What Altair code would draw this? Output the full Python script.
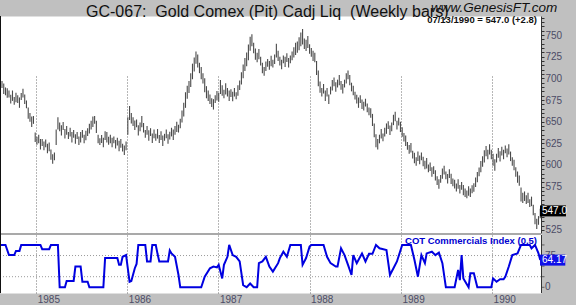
import altair as alt
import pandas as pd

# ---------------- data ----------------
N_WEEKS = 310
last_date = "1990-07-13"

price_mid = [
    690, 693, 688, 685, 683, 682, 676, 680, 674, 678,
    676, 672, 679, 683, 676, 670, 660, 655, 650, 652,
    632, 628, 630, 624, 626, 622, 625, 619, 621, 612,
    607, 610, 632, 648, 644, 640, 645, 636, 640, 634,
    638, 632, 636, 630, 634, 628, 632, 636, 630, 634,
    638, 642, 646, 650, 652, 644, 630, 627, 630, 626,
    634, 632, 628, 630, 626, 629, 624, 627, 622, 625,
    620, 617, 622, 645, 660, 654, 650, 646, 648, 640,
    644, 650, 643, 636, 640, 634, 638, 631, 636, 632,
    636, 630, 634, 628, 632, 636, 630, 634, 638, 635,
    640, 644, 642, 648, 656, 664, 675, 684, 690, 698,
    708, 716, 724, 720, 712, 706, 700, 692, 684, 680,
    676, 672, 670, 676, 680, 678, 690, 686, 682, 688,
    684, 680, 683, 679, 684, 680, 686, 692, 700, 708,
    716, 722, 730, 740, 744, 735, 728, 724, 728, 720,
    712, 708, 714, 718, 715, 720, 717, 722, 732, 726,
    720, 716, 722, 719, 724, 718, 722, 726, 730, 734,
    736, 740, 745, 748, 740, 738, 742, 734, 730, 726,
    724, 712, 700, 690, 684, 688, 680, 684, 676, 686,
    692, 696, 690, 694, 698, 692, 688, 694, 700, 704,
    698, 690, 686, 680, 676, 672, 676, 670, 668, 672,
    666, 662, 660, 652, 640, 628, 624, 630, 636, 632,
    638, 642, 646, 640, 644, 652, 656, 646, 650, 644,
    638, 632, 628, 622, 618, 620, 612, 608, 604, 610,
    606, 610, 604, 600, 602, 596, 598, 592, 594, 588,
    582, 578, 584, 590, 594, 588, 584, 590, 584, 580,
    578, 574, 578, 572, 576, 571, 568, 566, 570, 568,
    572, 574, 580, 586, 592, 598, 604, 610, 616, 612,
    618, 612, 606, 600, 608, 614, 610, 616, 612, 618,
    614, 618, 610, 604, 600, 592, 586, 582, 566, 562,
    564, 560, 562, 556, 558, 548, 538, 532, 536, 544,
]

price_range = [
    10, 8, 12, 9, 11, 8, 10, 12, 9, 11,
    9, 12, 8, 10, 11, 9, 13, 10, 12, 9,
    11, 9, 10, 12, 8, 10, 9, 11, 10, 12,
    11, 9, 18, 14, 10, 12, 9, 11, 10, 8,
    10, 12, 9, 11, 8, 10, 12, 9, 10, 11,
    9, 11, 10, 12, 9, 14, 10, 8, 9, 11,
    10, 12, 9, 10, 11, 8, 10, 9, 12, 10,
    9, 11, 10, 20, 16, 12, 10, 11, 9, 12,
    10, 13, 11, 9, 10, 12, 9, 11, 10, 8,
    11, 9, 10, 12, 8, 10, 11, 9, 10, 12,
    10, 12, 9, 11, 14, 16, 18, 15, 14, 16,
    18, 16, 14, 15, 12, 14, 12, 16, 14, 12,
    11, 10, 12, 9, 11, 10, 16, 12, 10, 13,
    10, 12, 9, 11, 10, 8, 12, 11, 14, 16,
    15, 16, 18, 16, 14, 12, 13, 11, 12, 10,
    12, 10, 11, 9, 10, 12, 9, 11, 16, 12,
    10, 11, 9, 12, 10, 11, 9, 10, 12, 14,
    13, 15, 16, 18, 12, 13, 14, 11, 10, 12,
    11, 16, 18, 13, 10, 11, 12, 10, 11, 9,
    12, 10, 11, 9, 12, 10, 11, 9, 12, 10,
    12, 10, 11, 9, 10, 12, 9, 11, 10, 9,
    10, 9, 11, 14, 16, 15, 12, 10, 11, 9,
    10, 12, 9, 11, 10, 12, 11, 10, 9, 12,
    11, 10, 12, 9, 10, 11, 9, 12, 10, 11,
    10, 9, 11, 10, 12, 9, 10, 11, 9, 12,
    10, 11, 9, 12, 10, 9, 11, 10, 12, 9,
    10, 9, 11, 10, 9, 12, 10, 9, 11, 10,
    9, 10, 11, 12, 10, 13, 12, 14, 12, 11,
    12, 11, 14, 13, 10, 11, 12, 10, 11, 9,
    10, 12, 11, 10, 12, 11, 13, 12, 16, 12,
    11, 10, 12, 9, 11, 12, 13, 12, 10, 11,
]

# COT Commercials Index: (week number, value) turning points
cot_week = [0, 3, 5, 8, 9, 11, 12, 23, 24, 28, 29, 33, 34, 37, 38, 41, 42, 43, 46, 47,
            50, 51, 59, 60, 67, 68, 69, 70, 72, 74, 75, 77, 78, 79, 83, 84, 86, 87, 89, 90,
            91, 96, 97, 98, 100, 102, 103, 115, 117, 120, 122, 124, 125, 127, 128, 130, 131, 133, 135, 137,
            139, 141, 143, 145, 147, 148, 150, 152, 154, 156, 159, 160, 162, 164, 166, 172, 173, 175, 177, 178,
            185, 187, 189, 192, 193, 195, 197, 199, 201, 202, 204, 207, 209, 211, 213, 215, 217, 221, 223, 225,
            227, 230, 235, 237, 239, 241, 243, 244, 247, 249, 251, 253, 255, 260, 262, 263, 264, 265, 268, 269,
            271, 273, 281, 282, 284, 286, 288, 289, 291, 293, 296, 298, 303, 304, 306, 308, 309]
cot_val = [100, 100, 76, 76, 86, 86, 100, 100, 90, 90, 100, 100, 0, 0, 15, 15, 15, 49, 49, 13,
           13, 0, 0, 69, 69, 53, 53, 72, 76, 13, 15, 45, 55, 100, 100, 61, 61, 100, 100, 79,
           61, 61, 87, 80, 72, 29, 0, 0, 25, 45, 49, 47, 53, 21, 53, 72, 100, 76, 72, 61,
           5, 0, 9, 0, 0, 57, 61, 72, 49, 37, 57, 69, 84, 72, 100, 100, 53, 69, 96, 100,
           100, 72, 57, 49, 49, 92, 76, 53, 29, 76, 57, 80, 61, 79, 79, 100, 92, 88, 29, 45,
           61, 100, 100, 65, 25, 76, 57, 80, 84, 76, 82, 57, 0, 0, 41, 17, 76, 21, 0, 33,
           33, 0, 0, 21, 13, 19, 19, 25, 49, 76, 80, 100, 100, 92, 100, 80, 64.17]

year_labels = [1985, 1986, 1987, 1988, 1989, 1990]
price_ticks = list(range(525, 771, 5))
price_label_values = [525, 575, 600, 625, 650, 675, 700, 725, 750]
cot_tick_values = [0, 25, 50, 75, 100]
cot_label_values = [0, 75]
cot_grid_values = [25, 75]
last_price = 547.0
last_cot = 64.17

title_text = "GC-067:\u00a0 Gold Comex (Pit) Cadj Liq\u00a0 (Weekly bars)"
site_text = "www.GenesisFT.com"
date_text = "07/13/1990 = 547.0 (+2.8)"
cot_title = "COT Commercials Index (0.5)"

# ---------------- tables ----------------
dates = pd.date_range(end=last_date, periods=N_WEEKS, freq="W-FRI")
date_str = [d.strftime("%Y-%m-%d") for d in dates]
bars_df = pd.DataFrame({
    "date": date_str,
    "low": [m - r / 2 for m, r in zip(price_mid, price_range)],
    "high": [m + r / 2 for m, r in zip(price_mid, price_range)],
})
cot_df = pd.DataFrame({"date": [date_str[w] for w in cot_week], "cot": cot_val})

W, H = 541, 277
FONT = "Liberation Sans"
LABEL_COLOR = "#4c4c66"

x_scale = alt.Scale(type="utc", domain=[
    alt.DateTime(year=1984, month=8, date=9, utc=True),
    alt.DateTime(year=1990, month=7, date=16, utc=True)])
x_axis = alt.Axis(
    values=[alt.DateTime(year=y, month=1, date=1, utc=True) for y in year_labels],
    format="%Y", title=None, grid=True, gridDash=[1, 2], gridColor="#6e6e6e",
    gridWidth=1, domain=False, ticks=False, labelAlign="left", labelPadding=1,
    labelOffset=1, labelFont=FONT, labelFontSize=10, labelColor=LABEL_COLOR,
    labelFlush=False, labelOverlap=False, zindex=0)
x_enc = alt.X("date:T", scale=x_scale, axis=x_axis)

price_scale = alt.Scale(domain=[521.5, 772], range=[217, 0], nice=False, zero=False)
cot_scale = alt.Scale(domain=[-13.5, 123.5], range=[277, 219], nice=False, zero=False)

label_test = " || ".join(f"datum.value === {v}" for v in price_label_values)
price_axis = alt.Axis(
    orient="right", values=price_ticks, title=None, grid=False,
    labelExpr=f"({label_test}) ? datum.label : ''", format="d",
    tickSize=3, tickColor="#333333", domainColor="#333333", labelPadding=1,
    labelFont=FONT, labelFontSize=10, labelColor=LABEL_COLOR, labelOverlap=False,
    labelBaseline="middle", labelFlush=False)

one = pd.DataFrame({"a": [0]})

separator = alt.Chart(one).mark_rect(color="#a9a9a9").encode(
    x=alt.value(0), x2=alt.value(W), y=alt.value(217), y2=alt.value(219))

cot_grid = alt.Chart(pd.DataFrame({"v": cot_grid_values})).mark_rule(
    strokeDash=[1, 2], color="#9a9a9a", strokeWidth=1).encode(
    y=alt.Y("v:Q", scale=cot_scale, axis=None), x=alt.value(0), x2=alt.value(W))

bars = alt.Chart(bars_df).mark_rule(color="#4a4a4a", strokeWidth=1.1).encode(
    x=x_enc,
    y=alt.Y("low:Q", scale=price_scale, axis=price_axis),
    y2="high:Q")

cot_line = alt.Chart(cot_df).mark_line(color="#0000e0", strokeWidth=2).encode(
    x=x_enc, y=alt.Y("cot:Q", scale=cot_scale, axis=None))

left_border = alt.Chart(one).mark_rule(color="#111111", strokeWidth=1).encode(
    x=alt.value(0.5), y=alt.value(0), y2=alt.value(H))
right_border = alt.Chart(one).mark_rule(color="#333333", strokeWidth=1).encode(
    x=alt.value(W + 0.5), y=alt.value(219), y2=alt.value(H))

cot_ticks = alt.Chart(pd.DataFrame({"v": cot_tick_values})).mark_tick(
    orient="horizontal", size=3, thickness=1, color="#333333").encode(
    y=alt.Y("v:Q", scale=cot_scale, axis=None), x=alt.value(W + 2))

cot_labels = alt.Chart(pd.DataFrame({"v": cot_label_values,
                                     "lab": [str(v) for v in cot_label_values]})).mark_text(
    align="left", baseline="middle", font=FONT, fontSize=10, color=LABEL_COLOR).encode(
    y=alt.Y("v:Q", scale=cot_scale, axis=None), x=alt.value(W + 4), text="lab:N")

box_path = "M0,-0.5H2.36V0.5H0Z"
price_box = alt.Chart(pd.DataFrame({"v": [last_price]})).mark_point(
    shape=box_path, filled=True, size=484, color="#000000", opacity=1, strokeWidth=0).encode(
    x=alt.value(W - 1), y=alt.Y("v:Q", scale=price_scale, axis=None))
price_box_text = alt.Chart(pd.DataFrame({"v": [last_price], "lab": [f"{last_price:.1f}"]})).mark_text(
    align="left", baseline="middle", font=FONT, fontSize=10, color="white").encode(
    x=alt.value(W + 1), y=alt.Y("v:Q", scale=price_scale, axis=None), text="lab:N")

cot_box = alt.Chart(pd.DataFrame({"v": [last_cot]})).mark_point(
    shape="M0,-0.5H2.3V0.5H0Z", filled=True, size=484, color="#1010e8", opacity=1, strokeWidth=0).encode(
    x=alt.value(W - 1), y=alt.Y("v:Q", scale=cot_scale, axis=None))
cot_box_text = alt.Chart(pd.DataFrame({"v": [last_cot], "lab": [f"{last_cot:.2f}"]})).mark_text(
    align="left", baseline="middle", font=FONT, fontSize=10, color="white").encode(
    x=alt.value(W + 1), y=alt.Y("v:Q", scale=cot_scale, axis=None), text="lab:N")

cot_title_mark = alt.Chart(pd.DataFrame({"t": [cot_title]})).mark_text(
    align="right", baseline="alphabetic", font=FONT, fontSize=9.5, fontWeight="bold",
    color="#0000d0").encode(x=alt.value(537), y=alt.value(228), text="t:N")

title_mark = alt.Chart(pd.DataFrame({"t": [title_text]})).mark_text(
    align="left", baseline="alphabetic", font=FONT, fontSize=16, color="#111111").encode(
    x=alt.value(86), y=alt.value(0.5), text="t:N")

site_mark = alt.Chart(pd.DataFrame({"t": [site_text]})).mark_text(
    align="left", baseline="alphabetic", font=FONT, fontSize=13.5, fontStyle="italic",
    color="#111111").encode(x=alt.value(431), y=alt.value(-4), text="t:N")

date_mark = alt.Chart(pd.DataFrame({"t": [date_text]})).mark_text(
    align="right", baseline="alphabetic", font=FONT, fontSize=9.5, fontWeight="bold",
    color="#111111").encode(x=alt.value(537), y=alt.value(6.5), text="t:N")

chart = alt.layer(
    separator, cot_grid, bars, cot_line, left_border, right_border, cot_ticks,
    cot_labels, price_box, price_box_text, cot_box, cot_box_text,
    cot_title_mark, title_mark, site_mark, date_mark,
).resolve_scale(y="independent").properties(
    width=W, height=H,
    autosize=alt.AutoSizeParams(type="none"),
    padding={"left": 0, "top": 16, "right": 35, "bottom": 12},
    background="#c0c0c0",
).configure_view(fill="white", stroke="transparent")

chart.save("out.html", embed_options={"renderer": "svg", "actions": False})
